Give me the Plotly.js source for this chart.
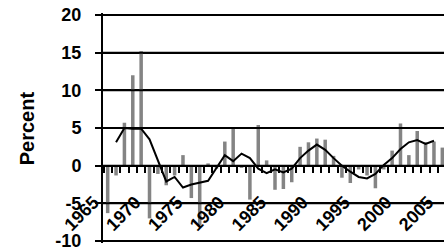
<!DOCTYPE html>
<html>
<head>
<meta charset="utf-8">
<script src="https://cdn.plot.ly/plotly-3.0.1.min.js"></script>
<style>html,body{margin:0;padding:0;background:#fff;}#chart{width:444px;height:249px;}</style>
</head>
<body>
<div id="chart"></div>
<script>
const years = [1965,1966,1967,1968,1969,1970,1971,1972,1973,1974,1975,1976,1977,1978,1979,1980,1981,1982,1983,1984,1985,1986,1987,1988,1989,1990,1991,1992,1993,1994,1995,1996,1997,1998,1999,2000,2001,2002,2003,2004,2005];
const annualChange = [-6.3,-1.3,5.7,12.0,15.2,-7.0,-1.1,-2.6,-1.3,1.4,-4.3,-7.9,0.3,-0.4,3.2,4.9,-0.3,-4.5,5.4,0.7,-3.2,-3.1,-2.2,2.5,3.1,3.6,3.45,1.3,-1.6,-2.3,-0.5,-1.3,-3.0,-0.5,2.0,5.6,1.4,4.6,3.1,3.2,2.4];
const avgYears = [1966,1967,1968,1969,1970,1971,1972,1973,1974,1975,1976,1977,1978,1979,1980,1981,1982,1983,1984,1985,1986,1987,1988,1989,1990,1991,1992,1993,1994,1995,1996,1997,1998,1999,2000,2001,2002,2003,2004];
const movingAvg = [3.1,5.0,4.9,4.9,3.5,0.8,-2.1,-1.5,-2.9,-2.5,-2.3,-2.0,-0.3,1.4,0.6,1.6,1.0,-0.4,-1.0,-0.5,-0.9,-0.4,1.0,2.0,2.8,2.1,1.0,0.0,-0.8,-1.5,-1.7,-1.1,0.1,1.0,2.2,3.1,3.4,2.9,3.3];
const yTicks = [-10,-5,0,5,10,15,20];
const yTickText = yTicks.map(v => v + '\u00a0\u00a0');
const xTicks = [1965,1970,1975,1980,1985,1990,1995,2000,2005];
const xTickText = xTicks.map(String);

const fam = '"Liberation Sans", Arial, sans-serif';
const traces = [
  {type:'bar', x:years, y:annualChange, width:0.42, marker:{color:'#848484', line:{width:0}}, showlegend:false, hoverinfo:'skip'},
  {type:'scatter', mode:'lines', x:avgYears, y:movingAvg, line:{color:'#000', width:2}, showlegend:false, hoverinfo:'skip'}
];
const gridShapes = yTicks.map(v => ({
  type:'line', xref:'paper', x0:0, x1:1, yref:'y', y0:v, y1:v,
  line:{color:'#000', width:2}, layer:'above'
}));
const layout = {
  width:444, height:249,
  margin:{l:103, r:0, t:13, b:6},
  font:{family:fam, color:'#000'},
  xaxis:{
    type:'linear', range:[1964.44, 2005.2],
    anchor:'free', position:(10.265/30.53),
    showline:true, linecolor:'#000', linewidth:2,
    showgrid:false, zeroline:false,
    tickvals:xTicks, ticktext:xTickText,
    ticks:'', tickangle:-45,
    ticklabelstandoff:18, ticklabelshift:-14,
    ticklabeloverflow:'allow',
    tickfont:{size:18, family:fam, weight:'bold', color:'#000'},
    minor:{ticks:'outside', ticklen:6, tickwidth:2, tickcolor:'#000', tick0:0.5, dtick:1, showgrid:false}
  },
  yaxis:{
    range:[-10.265,20.265], tickvals:yTicks, ticktext:yTickText,
    showline:true, linecolor:'#000', linewidth:2,
    showgrid:true, gridcolor:'#000', gridwidth:2, zeroline:false,
    ticks:'outside', ticklen:6, tickwidth:2, tickcolor:'#000',
    ticklabeloverflow:'allow',
    tickfont:{size:18, family:fam, weight:'bold', color:'#000'}
  },
  shapes:gridShapes,
  annotations:[{
    text:'Percent', xref:'paper', yref:'paper', x:-0.222, y:0.5, xanchor:'center', yanchor:'middle',
    textangle:-90, showarrow:false, font:{size:20, family:fam, weight:'bold', color:'#000'}
  }]
};
Plotly.newPlot('chart', traces, layout, {staticPlot:true, displayModeBar:false});
</script>
</body>
</html>
